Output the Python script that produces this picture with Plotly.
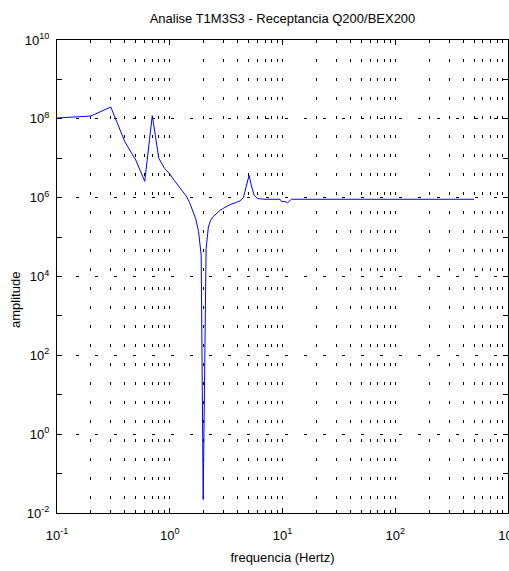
import plotly.graph_objects as go

# Data
freq = [0.1, 0.2, 0.3, 0.4, 0.5, 0.6, 0.7, 0.8, 0.9, 1.0, 1.1, 1.2, 1.3, 1.4, 1.5,
        1.6, 1.7, 1.8, 1.9, 1.98, 2.1, 2.2, 2.3, 2.4, 2.6, 2.8, 3.0, 3.4, 3.8, 4.2,
        4.5, 4.7, 4.9, 5.05, 5.3, 5.6, 6.0, 7.0, 9.5, 9.8, 10.5, 11.1, 12.0, 20.0,
        50.0, 100.0, 500.0]
amp = [1.05e8, 1.18e8, 2.0e8, 2.6e7, 9.0e6, 2.6e6, 1.2e8, 1.0e7, 5.5e6, 4.0e6,
       2.7e6, 1.9e6, 1.45e6, 1.1e6, 7.5e5, 4.6e5, 2.9e5, 1.4e5, 3.5e4, 0.022,
       5.0e4, 1.8e5, 2.6e5, 3.2e5, 4.0e5, 4.8e5, 5.4e5, 6.6e5, 7.4e5, 8.3e5,
       1.0e6, 1.6e6, 2.6e6, 3.7e6, 2.0e6, 1.15e6, 9.5e5, 9.1e5, 9.1e5, 8.0e5,
       8.0e5, 7.4e5, 9.1e5, 9.1e5, 9.1e5, 9.1e5, 9.1e5]

x_major = [0.1, 1, 10, 100, 1000]
x_major_text = ["10<sup>-1</sup>", "10<sup>0</sup>", "10<sup>1</sup>",
                "10<sup>2</sup>", "10<sup>3</sup>"]
x_minor = [m * d for d in [0.1, 1, 10, 100] for m in range(2, 10)]

y_major = [1e-2, 1e0, 1e2, 1e4, 1e6, 1e8, 1e10]
y_major_text = ["10<sup>-2</sup>", "10<sup>0</sup>", "10<sup>2</sup>", "10<sup>4</sup>",
                "10<sup>6</sup>", "10<sup>8</sup>", "10<sup>10</sup>"]
y_minor = [1e-1, 1e1, 1e3, 1e5, 1e7, 1e9]

title_text = "Analise T1M3S3 - Receptancia Q200/BEX200"
x_title = "frequencia (Hertz)"
y_title = "amplitude"

FS = 13
font = dict(family="Liberation Sans, Arial, sans-serif", size=FS, color="black")
grid_dash = "3px,16px"

fig = go.Figure()
fig.add_trace(go.Scatter(x=freq, y=amp, mode="lines",
                         line=dict(color="#0000ff", width=1), showlegend=False))

fig.update_layout(
    width=509, height=571,
    margin=dict(l=57, r=1, t=40, b=58),
    paper_bgcolor="white", plot_bgcolor="white",
    font=font,
    title=dict(text=title_text, x=(57 + 508) / 2 / 509, xanchor="center",
               y=1 - 18 / 571, yanchor="middle", font=dict(size=FS)),
    annotations=[dict(text=y_title, xref="paper", yref="paper",
                      x=-42 / 451, y=(513 - 300) / 473, xanchor="center",
                      yanchor="middle", textangle=-90, showarrow=False,
                      font=dict(size=FS))],
)
fig.update_xaxes(
    type="log", range=[-1, 3], automargin=False,
    tickmode="array", tickvals=x_major, ticktext=x_major_text,
    ticks="inside", ticklen=5, tickcolor="black", tickwidth=1,
    showline=True, linecolor="black", linewidth=1, mirror="allticks",
    showgrid=True, gridcolor="black", griddash=grid_dash, gridwidth=1,
    zeroline=False, ticklabelstandoff=10, ticklabeloverflow="allow",
    tickfont=dict(size=FS),
    minor=dict(tickmode="array", tickvals=x_minor, ticks="inside", ticklen=3,
               tickcolor="black", showgrid=True, gridcolor="black",
               griddash=grid_dash, gridwidth=1),
    title=dict(text=x_title, font=dict(size=FS), standoff=11),
)
fig.update_yaxes(
    type="log", range=[-2, 10],
    tickmode="array", tickvals=y_major, ticktext=y_major_text,
    ticks="inside", ticklen=5, tickcolor="black", tickwidth=1,
    showline=True, linecolor="black", linewidth=1, mirror="allticks",
    showgrid=True, gridcolor="black", griddash=grid_dash, gridwidth=1,
    zeroline=False, ticklabelstandoff=4,
    tickfont=dict(size=FS),
    minor=dict(tickmode="array", tickvals=y_minor, ticks="inside", ticklen=5,
               tickcolor="black", showgrid=False),
)

fig.write_html("out.html")
